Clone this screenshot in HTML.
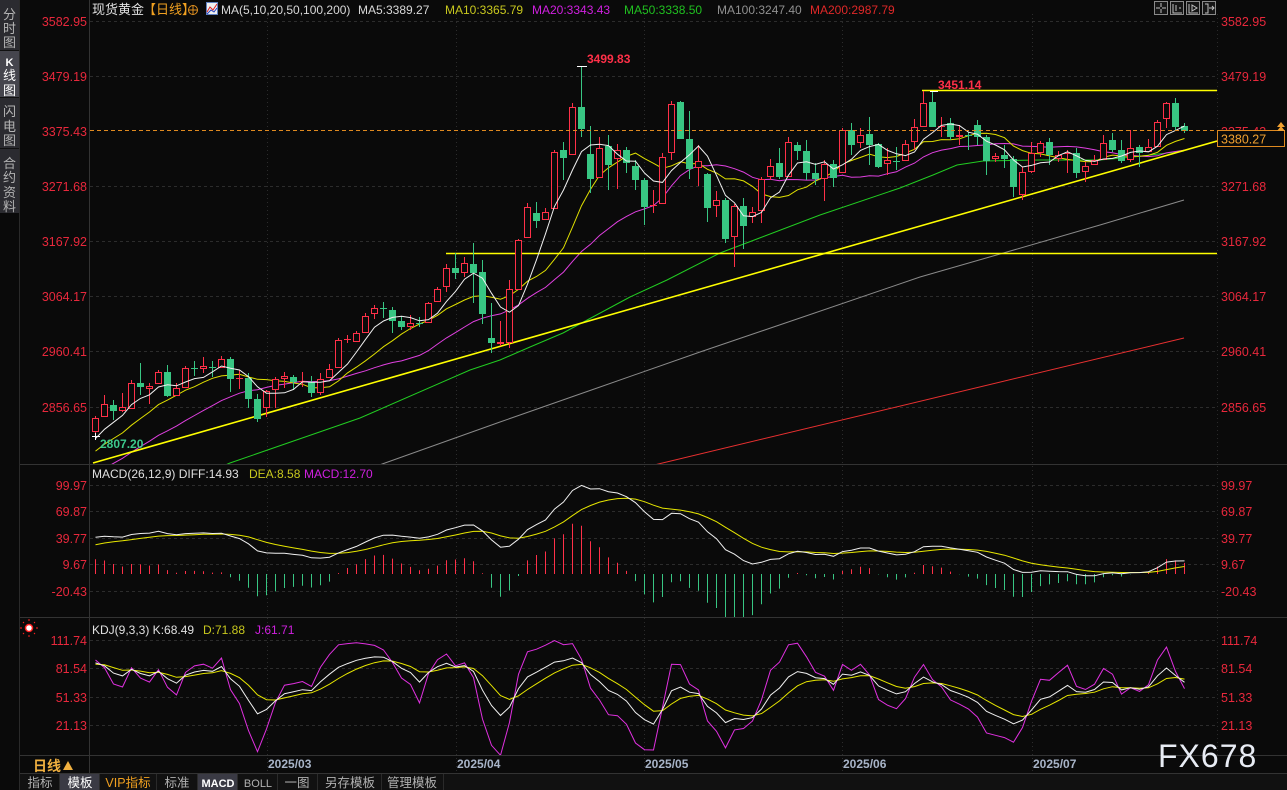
<!DOCTYPE html>
<html><head><meta charset="utf-8">
<style>
html,body{margin:0;padding:0;background:#0a0a0a;width:1287px;height:790px;overflow:hidden;}
svg{display:block;}
text{font-family:"Liberation Sans","Noto Sans CJK SC",sans-serif;}
</style></head><body>
<svg id="s" width="1287" height="790" xmlns="http://www.w3.org/2000/svg">
<defs>
<clipPath id="cm"><rect x="90" y="14" width="1127" height="450"/></clipPath>
<clipPath id="cd"><rect x="90" y="466" width="1127" height="151"/></clipPath>
<clipPath id="ck"><rect x="90" y="619" width="1127" height="136"/></clipPath>
</defs>
<rect x="0" y="0" width="1287" height="790" fill="#0a0a0a"/>
<!-- sidebar -->
<rect x="0" y="0" width="19" height="213" fill="#2b2b30"/>
<rect x="0" y="51" width="19" height="46" fill="#45454d"/>
<line x1="0" y1="50.5" x2="19" y2="50.5" stroke="#111"/>
<line x1="0" y1="97.5" x2="19" y2="97.5" stroke="#111"/>
<line x1="0" y1="148.5" x2="19" y2="148.5" stroke="#111"/>
<line x1="19.5" y1="0" x2="19.5" y2="790" stroke="#2a2a2a"/>
<g font-size="13" fill="#b4b4b4" text-anchor="middle">
<text x="9.5" y="19">分</text><text x="9.5" y="33">时</text><text x="9.5" y="47">图</text>
<text x="9.5" y="66" fill="#fff" font-size="11" font-weight="bold">K</text><text x="9.5" y="80" fill="#fff">线</text><text x="9.5" y="95" fill="#fff">图</text>
<text x="9.5" y="116">闪</text><text x="9.5" y="131">电</text><text x="9.5" y="145">图</text>
<text x="9.5" y="168">合</text><text x="9.5" y="182">约</text><text x="9.5" y="197">资</text><text x="9.5" y="211">料</text>
</g>
<!-- frame lines -->
<line x1="89.5" y1="0" x2="89.5" y2="774" stroke="#333"/>
<line x1="1217.5" y1="14" x2="1217.5" y2="757" stroke="#2a2a2a" stroke-dasharray="1,3"/>
<line x1="20" y1="464.5" x2="1287" y2="464.5" stroke="#333"/>
<line x1="20" y1="617.5" x2="1287" y2="617.5" stroke="#333"/>
<line x1="20" y1="755.5" x2="1287" y2="755.5" stroke="#333"/>
<line x1="20" y1="773.5" x2="1287" y2="773.5" stroke="#333"/>
<!-- grids -->
<g stroke="#2c2c2c" stroke-dasharray="3,3">
<line x1="90" y1="21.5" x2="1217" y2="21.5"/><line x1="90" y1="76.5" x2="1217" y2="76.5"/>
<line x1="90" y1="186.5" x2="1217" y2="186.5"/><line x1="90" y1="241.5" x2="1217" y2="241.5"/>
<line x1="90" y1="296.5" x2="1217" y2="296.5"/><line x1="90" y1="351.5" x2="1217" y2="351.5"/>
<line x1="90" y1="407.5" x2="1217" y2="407.5"/>
<line x1="90" y1="485.5" x2="1217" y2="485.5"/><line x1="90" y1="511.5" x2="1217" y2="511.5"/>
<line x1="90" y1="538.5" x2="1217" y2="538.5"/><line x1="90" y1="564.5" x2="1217" y2="564.5"/>
<line x1="90" y1="591.5" x2="1217" y2="591.5"/>
<line x1="90" y1="640.5" x2="1217" y2="640.5"/><line x1="90" y1="668.5" x2="1217" y2="668.5"/>
<line x1="90" y1="697.5" x2="1217" y2="697.5"/><line x1="90" y1="725.5" x2="1217" y2="725.5"/>
</g>
<g stroke="#2c2c2c" stroke-dasharray="1,3">
<line x1="267.5" y1="14" x2="267.5" y2="774"/><line x1="456.5" y1="14" x2="456.5" y2="774"/>
<line x1="644.5" y1="14" x2="644.5" y2="774"/><line x1="842.5" y1="14" x2="842.5" y2="774"/>
<line x1="1032.5" y1="14" x2="1032.5" y2="774"/>
</g>
<!-- axis labels -->
<g font-size="12.5" fill="#e8283c">
<g text-anchor="end">
<text x="87" y="26">3582.95</text><text x="87" y="81">3479.19</text><text x="87" y="136">3375.43</text>
<text x="87" y="191">3271.68</text><text x="87" y="246">3167.92</text><text x="87" y="301">3064.17</text>
<text x="87" y="356">2960.41</text><text x="87" y="412">2856.65</text>
<text x="87" y="490">99.97</text><text x="87" y="516">69.87</text><text x="87" y="543">39.77</text>
<text x="87" y="569">9.67</text><text x="87" y="596">-20.43</text>
<text x="87" y="645">111.74</text><text x="87" y="673">81.54</text><text x="87" y="702">51.33</text><text x="87" y="730">21.13</text>
</g>
<text x="1221" y="26">3582.95</text><text x="1221" y="81">3479.19</text><text x="1221" y="136">3375.43</text>
<text x="1221" y="191">3271.68</text><text x="1221" y="246">3167.92</text><text x="1221" y="301">3064.17</text>
<text x="1221" y="356">2960.41</text><text x="1221" y="412">2856.65</text>
<text x="1221" y="490">99.97</text><text x="1221" y="516">69.87</text><text x="1221" y="543">39.77</text>
<text x="1221" y="569">9.67</text><text x="1221" y="596">-20.43</text>
<text x="1221" y="645">111.74</text><text x="1221" y="673">81.54</text><text x="1221" y="702">51.33</text><text x="1221" y="730">21.13</text>
</g>
<!-- header -->
<g font-size="12">
<text x="92" y="14" fill="#e0e0e0" font-size="13">现货黄金</text>
<text x="143" y="14" fill="#f0a020" font-size="13">【日线】</text>
<circle cx="193" cy="10" r="4.5" fill="none" stroke="#e09020"/>
<line x1="188" y1="10" x2="198" y2="10" stroke="#e09020"/><line x1="193" y1="5" x2="193" y2="15" stroke="#e09020"/>
<rect x="206.5" y="2.5" width="11" height="12" fill="#f0f0f0" stroke="#6080c0"/>
<polyline points="207,12 210,7 213,10 217,4" fill="none" stroke="#e02020"/>
<polyline points="207,14 211,10 214,12 217,8" fill="none" stroke="#2040c0"/>
<text x="221" y="14" fill="#d8d8d8">MA(5,10,20,50,100,200)</text>
<text x="358" y="14" fill="#d8d8d8">MA5:3389.27</text>
<text x="445" y="14" fill="#c8c81e">MA10:3365.79</text>
<text x="532" y="14" fill="#d020e0">MA20:3343.43</text>
<text x="624" y="14" fill="#20c020">MA50:3338.50</text>
<text x="717" y="14" fill="#909090">MA100:3247.40</text>
<text x="810" y="14" fill="#e02828">MA200:2987.79</text>
</g>
<!-- top right icons -->
<g fill="#161616" stroke="#8a8a8a">
<rect x="1154.5" y="1.5" width="13" height="13"/><rect x="1170.5" y="1.5" width="13" height="13"/>
<rect x="1186.5" y="1.5" width="13" height="13"/><rect x="1202.5" y="1.5" width="13" height="13"/>
</g>
<g stroke="#c0c0c0" fill="none">
<path d="M1161 3v4M1161 9v4M1156 8h4M1162 8h4"/>
<path d="M1173 4v9h9M1176 5v6M1179 8h2"/>
<path d="M1189 4v9h9M1192 5l5 3-5 3z"/>
<path d="M1205 4h3v9h-3M1209 8h5M1212 6l2 2-2 2"/>
</g>
<!-- dynamic chart -->
<g id="dyn"></g>
<!-- current price -->
<line x1="90" y1="130.5" x2="1217" y2="130.5" stroke="#e08a20" stroke-dasharray="4,3"/>
<rect x="1217.5" y="130.5" width="67" height="16" fill="#0a0a0a" stroke="#e08a20"/>
<text x="1221" y="143.5" font-size="12.5" fill="#f0a030">3380.27</text>
<polygon points="1277,127 1281,122 1285,127" fill="#f0a030"/>
<polygon points="1277,131 1281,126 1285,131" fill="#f0a030"/>
<!-- markers -->
<g stroke="#fff"><line x1="577" y1="66.5" x2="587" y2="66.5"/><line x1="930" y1="91.5" x2="938" y2="91.5"/><line x1="92" y1="436.5" x2="100" y2="436.5"/><line x1="95.5" y1="433" x2="95.5" y2="440"/></g>
<text x="587" y="63" font-size="12" font-weight="bold" fill="#ff3048">3499.83</text>
<text x="938" y="89" font-size="12" font-weight="bold" fill="#ff3048">3451.14</text>
<text x="100" y="448" font-size="12" font-weight="bold" fill="#3cc88c">2807.20</text>
<!-- sub headers -->
<g font-size="12">
<text x="92" y="478" fill="#e0e0e0">MACD(26,12,9) DIFF:14.93</text>
<text x="249" y="478" fill="#c8c81e">DEA:8.58</text>
<text x="304" y="478" fill="#d020e0">MACD:12.70</text>
<text x="92" y="634" fill="#e0e0e0">KDJ(9,3,3) K:68.49</text>
<text x="203" y="634" fill="#c8c81e">D:71.88</text>
<text x="255" y="634" fill="#d020e0">J:61.71</text>
</g>
<g stroke="#ff2020"><path d="M29 621v-2M29 635v2M22 628h-2M36 628h2M24 623l-1-1M34 623l1-1M24 633l-1 1M34 633l1 1"/></g>
<circle cx="29" cy="628" r="3.5" fill="#fff" stroke="#ff2020" stroke-width="1.5"/>
<!-- dates -->
<g font-size="12" font-weight="bold" fill="#a8b4c8">
<text x="268" y="768">2025/03</text><text x="457" y="768">2025/04</text><text x="645" y="768">2025/05</text>
<text x="843" y="768">2025/06</text><text x="1033" y="768">2025/07</text>
</g>
<text x="33" y="771" font-size="14" font-weight="bold" fill="#f0b040">日线</text>
<polygon points="63,770 68,761 73,770" fill="#f0b040"/>
<text x="1158" y="767" font-size="32" fill="#e8ecf4" letter-spacing="1">FX678</text>
<!-- bottom toolbar -->
<rect x="20" y="774" width="1267" height="16" fill="#111"/>
<rect x="60" y="774" width="39" height="16" fill="#3a3a44"/>
<rect x="198" y="774" width="39" height="16" fill="#3a3a44"/>
<g stroke="#2a2a2a"><path d="M59.5 774v16M99.5 774v16M156.5 774v16M197.5 774v16M237.5 774v16M277.5 774v16M317.5 774v16M381.5 774v16M443.5 774v16"/></g>
<g font-size="12.5" fill="#b0b0b0" text-anchor="middle">
<text x="40" y="787">指标</text><text x="80" y="787" fill="#fff">模板</text>
<text x="128" y="787" fill="#f0a020">VIP指标</text><text x="177" y="787">标准</text>
<text x="218" y="787" fill="#fff" font-size="11" font-weight="bold">MACD</text><text x="258" y="787" font-size="11">BOLL</text>
<text x="297" y="787">一图</text><text x="350" y="787">另存模板</text><text x="412" y="787">管理模板</text>
</g>
</svg>
<script>
const D=[[432,418,416,436,'r'],[417,404,395,417,'r'],[405,411,400,420,'g'],[411,407,393,412,'r'],[409,383,380,409,'r'],
[383,387,363,395,'g'],[389,386,383,404,'r'],[384,372,370,384,'r'],[372,396,365,397,'g'],[396,388,383,396,'r'],
[388,368,366,388,'r'],[368,369,361,376,'g'],[369,366,357,373,'r'],[367,368,361,377,'g'],[368,359,356,368,'r'],
[359,379,357,392,'g'],[378,378,370,389,'r'],[378,399,373,408,'g'],[399,419,394,422,'g'],[408,391,390,417,'r'],
[390,379,377,408,'r'],[379,376,372,388,'r'],[377,382,375,390,'g'],[381,381,372,387,'r'],[382,393,376,397,'g'],
[393,379,373,395,'r'],[378,369,364,378,'r'],[368,340,338,368,'r'],[340,339,335,343,'r'],[342,333,331,342,'r'],
[333,316,313,333,'r'],[314,308,305,319,'r'],[308,309,302,318,'g'],[310,321,307,333,'g'],[321,327,316,330,'g'],
[327,323,315,330,'r'],[323,324,317,327,'g'],[323,303,302,323,'r'],[302,289,287,302,'r'],[287,268,264,292,'r'],
[268,273,253,279,'g'],[273,263,257,277,'r'],[264,273,243,303,'g'],[272,314,260,324,'g'],[338,343,303,353,'g'],
[344,342,321,346,'r'],[343,289,280,348,'r'],[290,240,239,290,'r'],[238,207,203,238,'r'],[213,221,202,228,'g'],
[220,212,208,220,'r'],[209,152,150,209,'r'],[150,158,142,180,'g'],[155,107,103,155,'r'],[107,129,66,137,'g'],
[154,179,126,193,'g'],[178,148,137,178,'r'],[146,165,135,190,'g'],[159,150,144,189,'r'],[150,163,147,173,'g'],
[166,180,160,190,'g'],[180,207,178,225,'g'],[205,205,190,213,'r'],[204,157,153,204,'r'],[153,104,101,160,'r'],
[102,139,101,139,'g'],[139,169,111,179,'g'],[168,161,145,186,'r'],[174,208,173,222,'g'],[206,200,191,217,'r'],
[200,239,198,243,'g'],[237,206,204,267,'r'],[206,226,198,249,'g'],[217,212,207,223,'r'],[211,179,177,223,'r'],
[177,166,159,180,'r'],[163,177,148,179,'g'],[177,142,137,177,'r'],[145,151,142,160,'g'],[151,173,140,180,'g'],
[173,179,163,185,'g'],[179,164,160,201,'r'],[164,178,160,187,'g'],[173,130,128,173,'r'],[130,145,123,155,'g'],
[143,135,128,148,'r'],[134,145,117,165,'g'],[144,167,143,168,'g'],[164,160,148,175,'r'],[161,162,147,170,'g'],
[161,144,140,161,'r'],[142,127,119,150,'r'],[127,103,91,127,'r'],[102,127,91,127,'g'],[126,126,117,137,'r'],
[123,137,118,140,'g'],[137,135,125,145,'r'],[135,136,132,150,'g'],[125,137,120,145,'g'],[137,161,135,175,'g'],
[159,156,153,162,'r'],[155,159,145,168,'g'],[159,187,156,197,'g'],[195,172,167,200,'r'],[172,153,142,173,'r'],
[153,143,141,157,'r'],[142,155,138,165,'g'],[159,155,151,162,'r'],[153,153,150,173,'r'],[153,173,148,178,'g'],
[172,166,162,182,'r'],[165,160,155,165,'r'],[160,143,135,160,'r'],[140,150,133,152,'g'],[150,161,140,163,'g'],
[160,148,130,162,'r'],[147,153,145,167,'g'],[152,147,139,152,'r'],[147,122,120,147,'r'],[119,103,102,128,'r'],
[103,127,98,130,'g'],[126,131,123,133,'g']];
const RED='#ff3048',GRN='#38c683';
const X=i=>95+9*i;
const n=D.length;
const C=D.map(d=>d[1]);
let o='';
function pl(pts,col,w,clip){return '<polyline clip-path="url(#'+clip+')" points="'+pts.map(p=>p[0].toFixed(1)+','+p[1].toFixed(1)).join(' ')+'" fill="none" stroke="'+col+'" stroke-width="'+(w||1)+'"/>';}
const pre=[];for(let k=0;k<19;k++)pre.push(517-k*80/18);
const S=pre.concat(C);
function ma(N){const r=[];for(let i=0;i<n;i++){let s=0;for(let j=19+i-N+1;j<=19+i;j++)s+=S[j];r.push([X(i)+0.5,s/N]);}return r;}
let main='';
main+=pl([[200,476],[230,463],[360,418],[470,370],[500,360],[530,347],[563,333],[630,297],[667,280],[720,253],[820,215],[900,188],[933,175],[957,165],[983,161],[1040,160],[1100,160],[1133,157],[1184,151]],'#22cc22',1,'cm');
main+=pl([[360,472],[385,463],[500,422],[600,387],[700,352],[800,318],[920,277],[1000,254],[1100,225],[1184,200]],'#8a8a8a',1,'cm');
main+=pl([[650,466],[1184,338]],'#e83030',1,'cm');
main+=pl(ma(20),'#e040e0',1,'cm');
main+=pl(ma(10),'#e0e000',1,'cm');
main+=pl([[93,463],[1217,141]],'#ffff00',1.6,'cm');
main+='<line x1="922" y1="90.5" x2="1217" y2="90.5" stroke="#ffff00" stroke-width="1.6"/>';
main+='<line x1="446" y1="253.5" x2="1217" y2="253.5" stroke="#ffff00" stroke-width="1.6"/>';
let cs='';
for(let i=0;i<n;i++){const [op,cl,h,l,col]=D[i];const x=X(i);const t=Math.min(op,cl),b=Math.max(op,cl);
 if(col==='r'){
  if(b-t<1.5){cs+='<line x1="'+(x+.5)+'" y1="'+h+'" x2="'+(x+.5)+'" y2="'+l+'" stroke="'+RED+'"/><line x1="'+(x-3)+'" y1="'+(t+.5)+'" x2="'+(x+4)+'" y2="'+(t+.5)+'" stroke="'+RED+'"/>';}
  else{ if(h<t)cs+='<line x1="'+(x+.5)+'" y1="'+h+'" x2="'+(x+.5)+'" y2="'+t+'" stroke="'+RED+'"/>';
   if(l>b)cs+='<line x1="'+(x+.5)+'" y1="'+b+'" x2="'+(x+.5)+'" y2="'+l+'" stroke="'+RED+'"/>';
   cs+='<rect x="'+(x-2.5)+'" y="'+(t+.5)+'" width="6" height="'+(b-t-1)+'" fill="#0a0a0a" stroke="'+RED+'"/>';}
 }else{
  cs+='<line x1="'+(x+.5)+'" y1="'+h+'" x2="'+(x+.5)+'" y2="'+l+'" stroke="'+GRN+'"/>';
  cs+='<rect x="'+(x-3)+'" y="'+t+'" width="7" height="'+Math.max(1,b-t)+'" fill="'+GRN+'"/>';
 }}
o+=main+cs+pl(ma(5),'#f0f0f0',1,'cm');
const P=y=>3582.95-(y-21)/0.53146;
let e12=P(C[0])-32,e26=P(C[0])-74,dea=31;const dif=[],de=[];let bars='';
const my=v=>574-v*0.886;
for(let i=0;i<n;i++){const p=P(C[i]);e12+=(2/13)*(p-e12);e26+=(2/27)*(p-e26);const df=e12-e26;dea+=0.2*(df-dea);const m=2*(df-dea);
 dif.push([X(i)+.5,my(df)]);de.push([X(i)+.5,my(dea)]);
 bars+='<line x1="'+(X(i)+.5)+'" y1="574" x2="'+(X(i)+.5)+'" y2="'+my(m).toFixed(1)+'" stroke="'+(m>=0?RED:GRN)+'"/>';}
o+='<g clip-path="url(#cd)">'+bars+'</g>'+pl(de,'#e6e600',1,'cd')+pl(dif,'#f0f0f0',1,'cd');
let K=86,Dd=85;const kk=[],dd=[],jj=[];const ky=v=>640+(111.74-v)*0.9375;
for(let i=0;i<n;i++){let lo=-1e9,hi=1e9;for(let j=Math.max(0,i-8);j<=i;j++){lo=Math.max(lo,D[j][3]);hi=Math.min(hi,D[j][2]);}
 const rsv=lo===hi?50:(lo-C[i])/(lo-hi)*100;K=(2*K+rsv)/3;Dd=(2*Dd+K)/3;const J=3*K-2*Dd;
 kk.push([X(i)+.5,ky(K)]);dd.push([X(i)+.5,ky(Dd)]);jj.push([X(i)+.5,ky(J)]);}
o+=pl(jj,'#e030e0',1,'ck')+pl(dd,'#e6e600',1,'ck')+pl(kk,'#f0f0f0',1,'ck');
document.getElementById('dyn').innerHTML=o;
</script>
</body></html>
